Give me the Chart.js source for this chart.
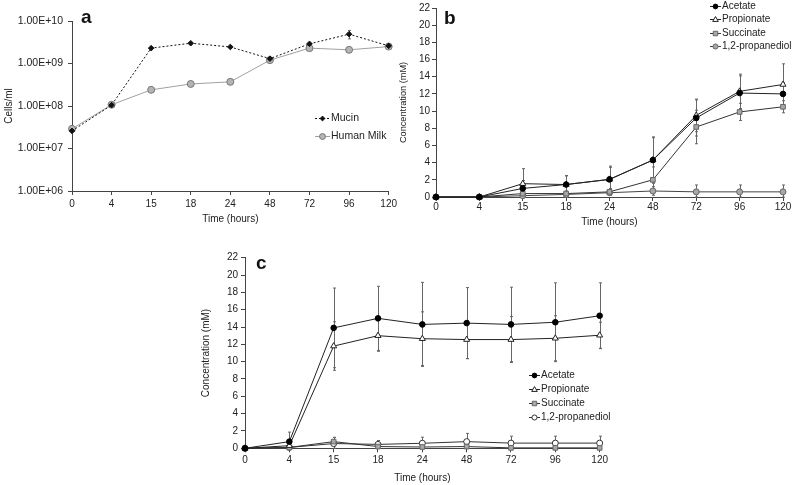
<!DOCTYPE html>
<html lang="en">
<head>
<meta charset="UTF-8" />
<title>Growth and metabolites</title>
<script src="https://cdn.jsdelivr.net/npm/chart.js@4.4.1/dist/chart.umd.min.js"></script>
<style>
  body{margin:0;background:#fff;width:793px;height:485px;position:relative;overflow:hidden;font-family:"Liberation Sans",Arial,sans-serif}
  canvas{position:absolute}
  .tag{position:absolute;font:bold 19px "Liberation Sans",Arial,sans-serif;line-height:19px;color:#111}
</style>
</head>
<body>
<canvas id="ca" width="400" height="230" style="left:0;top:0"></canvas>
<canvas id="cb" width="401" height="230" style="left:392px;top:0"></canvas>
<canvas id="cc" width="415" height="245" style="left:195px;top:240px"></canvas>
<div class="tag" style="left:81px;top:7px">a</div>
<div class="tag" style="left:444px;top:8px">b</div>
<div class="tag" style="left:256px;top:253px">c</div>
<script>
// shared x categories (hours)
const hours = ['0', '4', '15', '18', '24', '48', '72', '96', '120'];

// panel a: cells/ml
const mucin = [2.6e7, 1.05e8, 2.3e9, 3.0e9, 2.45e9, 1.3e9, 2.9e9, 4.9e9, 2.6e9];
const mucinErr = [0, 0, 0, 0, 0, 0, 0, 1.1e9, 0];
const humanMilk = [2.9e7, 1.07e8, 2.4e8, 3.3e8, 3.7e8, 1.2e9, 2.3e9, 2.1e9, 2.5e9];
const humanMilkErr = [0, 0, 0, 0, 0, 0, 0, 0, 0];
const logTicks = [1e6, 1e7, 1e8, 1e9, 1e10];

// panel b: concentration (mM)
const acetateB = [0, 0, 1.0, 1.45, 2.05, 4.3, 9.2, 12.1, 12.0];
const acetateBErr = [0, 0, 0.9, 1.0, 1.4, 2.6, 2.1, 2.0, 1.3];
const propionateB = [0, 0, 1.55, 1.45, 2.05, 4.3, 9.5, 12.3, 13.1];
const propionateBErr = [0, 0, 1.75, 1.05, 1.55, 2.7, 1.9, 2.0, 2.4];
const succinateB = [0, 0, 0.4, 0.4, 0.6, 2.0, 8.15, 9.9, 10.5];
const succinateBErr = [0, 0, 0.3, 0.3, 0.4, 1.5, 1.95, 1.0, 0.7];
const propanediolB = [0, 0, 0.15, 0.3, 0.5, 0.7, 0.6, 0.6, 0.6];
const propanediolBErr = [0, 0, 0.2, 0.3, 0.3, 0.5, 0.8, 0.8, 0.8];

// panel c: concentration (mM)
const acetateC = [0, 0.77, 13.9, 15.0, 14.3, 14.45, 14.3, 14.55, 15.3];
const acetateCErr = [0, 1.1, 4.6, 3.7, 4.85, 4.1, 4.3, 4.55, 3.8];
const propionateC = [0, 0.3, 11.8, 13.0, 12.65, 12.55, 12.55, 12.7, 13.05];
const propionateCErr = [0, 0.3, 2.8, 1.8, 3.1, 2.2, 2.65, 2.6, 1.5];
const succinateC = [0, 0.1, 0.77, 0.2, 0.15, 0.2, 0.05, 0.05, 0.05];
const succinateCErr = [0, 0.1, 0.5, 0.2, 0.2, 0.2, 0.1, 0.1, 0.1];
const propanediolC = [0, 0.1, 0.55, 0.45, 0.58, 0.77, 0.6, 0.6, 0.6];
const propanediolCErr = [0, 0.2, 0.7, 0.45, 0.7, 0.95, 0.8, 0.8, 0.8];
const concTicks = [0, 2, 4, 6, 8, 10, 12, 14, 16, 18, 20, 22];

const FONT = '"Liberation Sans", Arial, sans-serif';
const AXIS = '#444';
const TXT = '#222';

function marker(ctx, style, r, x, y) {
  ctx.beginPath();
  if (style === 'triangle') {
    ctx.moveTo(x, y - r);
    ctx.lineTo(x + r * 0.95, y + r * 0.65);
    ctx.lineTo(x - r * 0.95, y + r * 0.65);
    ctx.closePath();
  } else if (style === 'rect') {
    ctx.rect(x - r * 0.8, y - r * 0.8, r * 1.6, r * 1.6);
  } else if (style === 'rectRot') {
    ctx.moveTo(x, y - r); ctx.lineTo(x + r, y); ctx.lineTo(x, y + r); ctx.lineTo(x - r, y);
    ctx.closePath();
  } else {
    ctx.arc(x, y, r, 0, Math.PI * 2);
  }
  ctx.fill();
  ctx.stroke();
}

// error bars from dataset.errors, drawn through the chart's y scale
const errorBars = {
  id: 'errorBars',
  beforeDatasetsDraw(chart) {
    const ctx = chart.ctx;
    const ys = chart.scales.y;
    ctx.save();
    ctx.strokeStyle = '#666';
    ctx.lineWidth = 1;
    chart.data.datasets.forEach((ds, i) => {
      if (!ds.errors) return;
      const meta = chart.getDatasetMeta(i);
      ds.data.forEach((v, j) => {
        const e = ds.errors[j];
        if (!e) return;
        const x = Math.round(meta.data[j].x) + 0.5;
        const lo = Math.max(v - e, ys.min);
        const y1 = ys.getPixelForValue(v + e);
        const y2 = ys.getPixelForValue(lo);
        ctx.beginPath();
        ctx.moveTo(x, y1); ctx.lineTo(x, y2);
        ctx.moveTo(x - 1.5, y1); ctx.lineTo(x + 1.5, y1);
        ctx.moveTo(x - 1.5, y2); ctx.lineTo(x + 1.5, y2);
        ctx.stroke();
      });
    });
    ctx.restore();
  }
};

// small legend placed inside the canvas
const inLegend = {
  id: 'inLegend',
  afterDraw(chart, args, opts) {
    const ctx = chart.ctx;
    ctx.save();
    ctx.font = opts.font || '10px ' + FONT;
    ctx.textBaseline = 'middle';
    chart.data.datasets.forEach((ds, i) => {
      const y = Math.round(opts.y + i * opts.gap) + 0.5;
      ctx.strokeStyle = ds.borderColor;
      ctx.lineWidth = 1;
      ctx.setLineDash(ds.borderDash || []);
      ctx.beginPath();
      ctx.moveTo(opts.x, y); ctx.lineTo(opts.x + opts.len, y);
      ctx.stroke();
      ctx.setLineDash([]);
      ctx.fillStyle = ds.pointBackgroundColor;
      ctx.strokeStyle = ds.pointBorderColor;
      marker(ctx, ds.pointStyle, ds.pointRadius * 0.85, opts.x + opts.len / 2, y);
      ctx.fillStyle = TXT;
      ctx.fillText(ds.label, opts.x + opts.len + 1, y);
    });
    ctx.restore();
  }
};

function series(label, data, errors, style, fill, edge, line, r, dash) {
  return {
    label, data, errors,
    borderColor: line, borderWidth: 1, borderDash: dash || [],
    pointStyle: style, pointRadius: r, pointHoverRadius: r,
    pointBackgroundColor: fill, pointBorderColor: edge, pointBorderWidth: 1,
    tension: 0, clip: false
  };
}

function makeChart(id, datasets, box, yOpts, legend) {
  const tickFont = { family: FONT, size: 10 };
  return new Chart(document.getElementById(id), {
    type: 'line',
    data: { labels: hours, datasets },
    options: {
      responsive: false, animation: false, devicePixelRatio: 1,
      layout: { padding: { top: box.top, right: box.right, left: 0, bottom: 0 } },
      plugins: { legend: { display: false }, tooltip: { enabled: false }, inLegend: legend },
      scales: {
        x: {
          type: 'category', offset: false,
          grid: { drawOnChartArea: false, drawTicks: true, tickLength: 4, color: AXIS },
          border: { color: AXIS, width: 1 },
          ticks: { color: TXT, font: tickFont, padding: box.xpad, maxRotation: 0, autoSkip: false },
          title: { display: true, text: 'Time (hours)', color: TXT, font: { family: FONT, size: 10 }, padding: { top: 0, bottom: box.xtitle } },
          afterFit: s => { s.height = box.xh; }
        },
        y: Object.assign({
          grid: { drawOnChartArea: false, drawTicks: true, tickLength: 4, color: AXIS },
          border: { color: AXIS, width: 1 },
          afterFit: s => { s.width = box.yw; }
        }, yOpts)
      }
    },
    plugins: [errorBars, inLegend]
  });
}

// panel a
makeChart('ca', [
  series('Mucin', mucin, mucinErr, 'rectRot', '#111', '#111', '#111', 2.8, [2, 2]),
  series('Human Milk', humanMilk, humanMilkErr, 'circle', '#b4b4b4', '#777', '#a0a0a0', 3.5)
], { top: 21, right: 10, xh: 39, yw: 72, xpad: 3, xtitle: 5 }, {
  type: 'logarithmic', min: 1e6, max: 1e10,
  afterBuildTicks: s => { s.ticks = logTicks.map(v => ({ value: v })); },
  ticks: { color: TXT, font: { family: FONT, size: 10.5 }, padding: 5,
    callback: v => Number(v).toExponential(2).toUpperCase().replace(/E\+(\d)$/, 'E+0$1') },
  title: { display: true, text: 'Cells/ml', color: TXT, font: { family: FONT, size: 10 }, padding: { top: 3.5, bottom: 0 } }
}, { x: 315, y: 118, gap: 17.5, len: 15, font: '10.5px ' + FONT });

// panel b
makeChart('cb', [
  series('Acetate', acetateB, acetateBErr, 'circle', '#000', '#000', '#222', 2.8),
  series('Propionate', propionateB, propionateBErr, 'triangle', '#fff', '#222', '#222', 3.5),
  series('Succinate', succinateB, succinateBErr, 'rect', '#a8a8a8', '#666', '#333', 3.3),
  series('1,2-propanediol', propanediolB, propanediolBErr, 'circle', '#a8a8a8', '#666', '#444', 3)
], { top: 5, right: 10, xh: 33, yw: 44, xpad: 0, xtitle: 2 }, {
  min: 0, max: 22,
  afterBuildTicks: s => { s.ticks = concTicks.map(v => ({ value: v })); },
  ticks: { color: TXT, font: { family: FONT, size: 10 }, padding: 2 },
  title: { display: true, text: 'Concentration (mM)', color: TXT, font: { family: FONT, size: 9.2 }, padding: { top: 5.5, bottom: 0 } }
}, { x: 318, y: 6, gap: 13.4, len: 11 });

// panel c
makeChart('cc', [
  series('Acetate', acetateC, acetateCErr, 'circle', '#000', '#000', '#222', 2.8),
  series('Propionate', propionateC, propionateCErr, 'triangle', '#fff', '#222', '#222', 3.5),
  series('Succinate', succinateC, succinateCErr, 'rect', '#a8a8a8', '#666', '#333', 3.3),
  series('1,2-propanediol', propanediolC, propanediolCErr, 'circle', '#fff', '#333', '#333', 3)
], { top: 17.7, right: 10, xh: 36.7, yw: 50, xpad: 2, xtitle: 1 }, {
  min: 0, max: 22,
  afterBuildTicks: s => { s.ticks = concTicks.map(v => ({ value: v })); },
  ticks: { color: TXT, font: { family: FONT, size: 10 }, padding: 3 },
  title: { display: true, text: 'Concentration (mM)', color: TXT, font: { family: FONT, size: 10 }, padding: { top: 5.7, bottom: 0 } }
}, { x: 334, y: 135, gap: 13.9, len: 11 });
</script>
</body>
</html>
